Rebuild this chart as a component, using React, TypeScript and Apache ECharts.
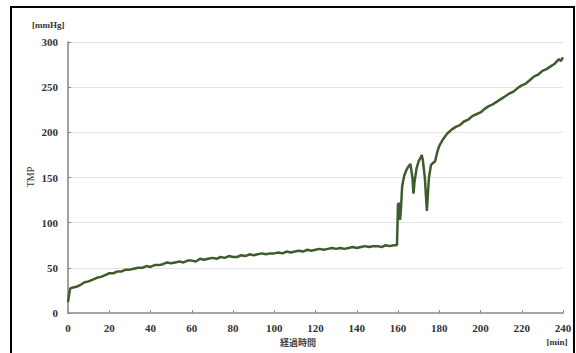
import React, { useEffect, useRef } from "react";
import * as echarts from "echarts";

const minutes: number[] = [
  0, 1, 2, 4, 6, 8, 10, 12, 14, 16, 18, 20, 22, 24, 26, 28, 30, 32, 34, 36, 38,
  40, 42, 44, 46, 48, 50, 52, 54, 56, 58, 60, 62, 64, 66, 68, 70, 72, 74, 76, 78,
  80, 82, 84, 86, 88, 90, 92, 94, 96, 98, 100, 102, 104, 106, 108, 110, 112, 114,
  116, 118, 120, 122, 124, 126, 128, 130, 132, 134, 136, 138, 140, 142, 144, 146,
  148, 150, 152, 154, 156, 158, 159.5, 160, 160.5, 161, 161.5, 162, 163, 164, 165,
  166, 167, 167.5, 168, 169, 170, 171, 171.5, 172, 173, 174, 175, 176, 177, 178,
  179, 180, 182, 184, 186, 188, 190, 192, 194, 196, 198, 200, 202, 204, 206, 208,
  210, 212, 214, 216, 218, 220, 222, 224, 226, 228, 230, 232, 234, 236, 238, 239, 240,
];

const tmp: number[] = [
  12, 27, 28, 29, 31, 34, 35, 37, 39, 40, 42, 44, 44, 46, 46, 48, 48, 49, 50, 50, 52,
  51, 53, 53, 54, 56, 55, 56, 57, 56, 58, 58, 57, 60, 59, 60, 61, 60, 62, 61, 63,
  62, 62, 64, 63, 65, 64, 65, 66, 65, 66, 66, 67, 66, 68, 67, 68, 69, 68,
  70, 69, 70, 71, 70, 71, 72, 71, 72, 71, 72, 73, 72, 73, 74, 73,
  74, 74, 73, 75, 74, 75, 75, 120, 122, 103, 118, 140, 152, 158, 162,
  165, 150, 132, 145, 160, 168, 172, 175, 170, 150, 113, 150, 164, 166, 168,
  178, 185, 193, 199, 203, 206, 208, 212, 214, 218, 220, 222, 226, 229, 231, 234,
  237, 240, 243, 245, 249, 252, 254, 258, 262, 264, 268, 270, 273, 276, 281, 279, 283,
];

const xTicks = { min: 0, max: 240, interval: 20 };
const yTicks = { min: 0, max: 300, interval: 50 };

const serif = "'Liberation Serif', 'DejaVu Serif', serif";

export default function App() {
  const ref = useRef<HTMLDivElement>(null);
  useEffect(() => {
    if (!ref.current) return;
    const chart = echarts.init(ref.current, undefined, { renderer: "svg" });
    chart.setOption({
      animation: false,
      backgroundColor: "#ffffff",
      grid: { left: 68, right: 13, top: 42, bottom: 40, containLabel: false },
      xAxis: {
        type: "value",
        min: xTicks.min,
        max: xTicks.max,
        interval: xTicks.interval,
        axisLine: { lineStyle: { color: "#8c8c8c", width: 1.5 } },
        axisTick: { inside: true, length: 3, lineStyle: { color: "#8c8c8c" } },
        splitLine: { show: false },
        axisLabel: { color: "#333", fontFamily: serif, fontSize: 11, fontWeight: "bold", margin: 9 },
      },
      yAxis: {
        type: "value",
        min: yTicks.min,
        max: yTicks.max,
        interval: yTicks.interval,
        axisLine: { show: true, lineStyle: { color: "#8a8078", width: 1.5 } },
        axisTick: { show: true, inside: true, length: 3, lineStyle: { color: "#8a8078" } },
        splitLine: { show: true, lineStyle: { color: "#e3e3e3", width: 1 } },
        axisLabel: { color: "#333", fontFamily: serif, fontSize: 11, fontWeight: "bold", margin: 10 },
      },
      series: [
        {
          type: "line",
          data: minutes.map((m, i) => [m, tmp[i]]),
          showSymbol: false,
          lineStyle: { color: "#3e5c2c", width: 2.5 },
          z: 3,
        },
      ],
      graphic: [
        {
          type: "rect",
          shape: { x: 11, y: 7, width: 563, height: 360 },
          style: { fill: "none", stroke: "#000", lineWidth: 2 },
          silent: true,
        },
        {
          type: "text",
          x: 32,
          y: 20,
          style: { text: "[mmHg]", font: `bold 9px ${serif}`, fill: "#333" },
        },
        {
          type: "text",
          x: 30,
          y: 177,
          rotation: Math.PI / 2,
          style: { text: "TMP", font: `10px ${serif}`, fill: "#333", align: "center", verticalAlign: "middle" },
        },
        {
          type: "text",
          x: 298,
          y: 342,
          style: {
            text: "経過時間",
            font: `bold 9px 'Noto Sans CJK JP', sans-serif`,
            fill: "#444",
            align: "center",
            verticalAlign: "middle",
          },
        },
        {
          type: "text",
          x: 557,
          y: 342,
          style: { text: "[min]", font: `bold 9px ${serif}`, fill: "#333", align: "center", verticalAlign: "middle" },
        },
      ],
    });
    return () => chart.dispose();
  }, []);
  return (
    <div
      ref={ref}
      style={{ position: "fixed", left: 0, top: 0, width: 576, height: 353 }}
    />
  );
}
